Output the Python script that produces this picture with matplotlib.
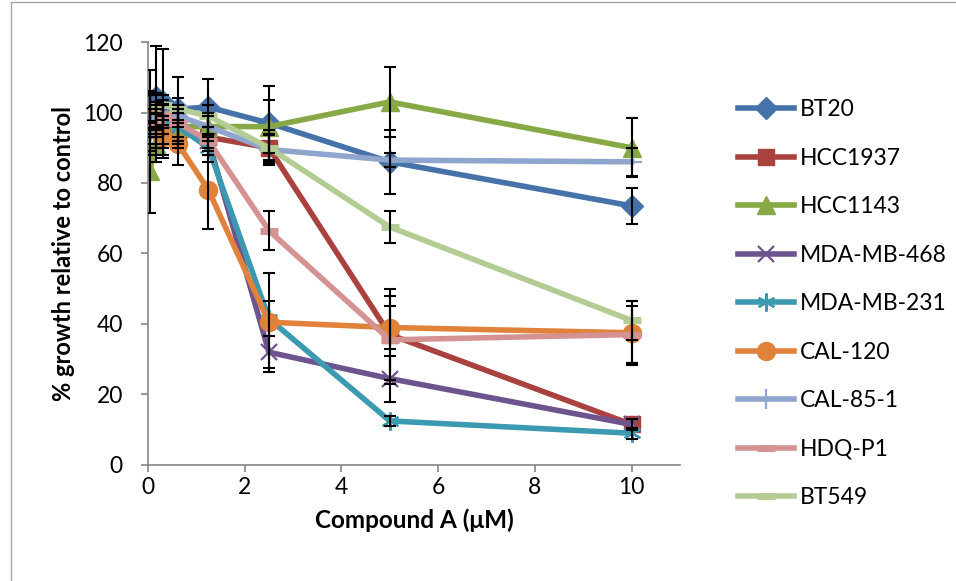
import matplotlib
matplotlib.use("Agg")
import matplotlib.pyplot as plt
from matplotlib.lines import Line2D

# concentrations (uM)
conc = [0.039, 0.156, 0.3125, 0.625, 1.25, 2.5, 5, 10]

bt20 = [100, 104.5, 103, 101, 101.5, 97, 86, 73.5]
bt20_err = [12, 14.5, 15, 9, 8, 10.5, 9, 5]
hcc1937 = [100, 98, 95, 94, 93, 90, 37, 11.5]
hcc1937_err = [6, 5, 4, 4, 3, 5, 13, 1.5]
hcc1143 = [83.5, 91, 94, 96, 96, 96, 103, 90]
hcc1143_err = [12, 5, 4, 5, 4, 7.5, 10, 8.3]
mda468 = [100, 99, 98, 96, 92, 32, 24.5, 11.5]
mda468_err = [5, 4, 4, 4, 4, 4.5, 6.5, 1.5]
mda231 = [100, 99, 98, 96, 90, 41.5, 12.5, 9]
mda231_err = [5, 4, 4, 4, 4, 5, 1.5, 1.5]
cal120 = [99, 95, 93, 91, 78, 40.5, 39, 37.5]
cal120_err = [6, 5, 6, 6, 11, 14, 6, 9]
cal851 = [93, 99, 99.5, 99, 96, 89.5, 86.5, 86]
cal851_err = [4, 3, 3, 3, 3, 4, 2, 4]
hdqp1 = [96, 97, 99.5, 97, 92, 66.5, 35.5, 37]
hdqp1_err = [5, 4, 4, 4, 4, 5.5, 12.5, 8]
bt549 = [101.5, 102.5, 102, 101, 99, 90, 67.5, 41]
bt549_err = [4, 3, 3, 3, 3, 4, 4.5, 5.5]

names = ["BT20", "HCC1937", "HCC1143", "MDA-MB-468", "MDA-MB-231",
         "CAL-120", "CAL-85-1", "HDQ-P1", "BT549"]
values = [bt20, hcc1937, hcc1143, mda468, mda231, cal120, cal851, hdqp1, bt549]
errors = [bt20_err, hcc1937_err, hcc1143_err, mda468_err, mda231_err,
          cal120_err, cal851_err, hdqp1_err, bt549_err]
colors = ["#4572A8", "#A9413F", "#86A845", "#6E548F", "#3C9AB0",
          "#E0823A", "#8EA6CE", "#D49292", "#B3CC94"]
# marker, size, edge width
markers = [("D", 11, 1), ("s", 12, 1), ("^", 13, 1), ("x", 12, 1.6),
           ((6, 2, 0), 13, 1.6), ("o", 13, 1), ("+", 14, 1.6),
           ("_", 13, 5), ("_", 13, 5)]

plt.rcParams["font.family"] = ["Lato", "DejaVu Sans"]

fig = plt.figure(figsize=(9.56, 5.81), dpi=100)
# chart area border (only left and top edges visible in the source)
fig.add_artist(Line2D([0.012, 0.012], [0, 0.997], transform=fig.transFigure,
                      color="#A6A6A6", lw=1))
fig.add_artist(Line2D([0.012, 1], [0.997, 0.997], transform=fig.transFigure,
                      color="#A6A6A6", lw=1))
ax = fig.add_axes([0.1548, 0.1997, 0.5565, 0.728])

for name, y, e, c, (m, ms, mew) in zip(names, values, errors, colors, markers):
    ax.errorbar(conc, y, yerr=e, fmt="none", ecolor="black", elinewidth=1.5,
                capsize=4.5, capthick=1.5, zorder=3)
    ax.plot(conc, y, color=c, lw=4, marker=m, ms=ms, mew=mew,
            mec=c, mfc=c, label=name, zorder=2)

ax.set_xlim(0, 11)
ax.set_ylim(0, 120)
ax.set_xticks([0, 2, 4, 6, 8, 10])
ax.set_yticks(range(0, 121, 20))
for s in ("top", "right"):
    ax.spines[s].set_visible(False)
for s in ("left", "bottom"):
    ax.spines[s].set_color("#868686")
    ax.spines[s].set_linewidth(1.2)
ax.tick_params(colors="#868686", labelcolor="black", labelsize=16.5, length=5, width=1.2)
ax.tick_params(axis="y", pad=13)
ax.tick_params(axis="x", pad=4)
ax.set_ylabel("% growth relative to control", fontsize=17, fontweight="bold", labelpad=6)
ax.set_xlabel("Compound A (μM)", fontsize=17.5, fontweight="bold", labelpad=7)

ax.legend(loc="upper left", bbox_to_anchor=(0.762, 0.845), bbox_transform=fig.transFigure,
          frameon=False, fontsize=16.5, labelspacing=1.2, handlelength=2.45,
          handletextpad=0.25, borderaxespad=0)

fig.savefig("out.png", dpi=100)
